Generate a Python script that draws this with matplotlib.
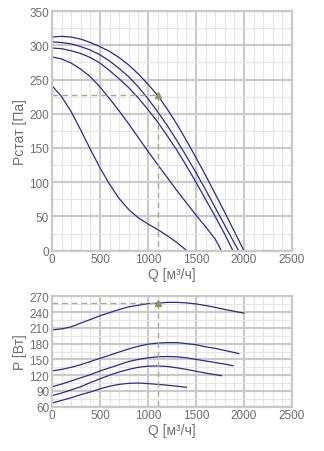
import numpy as np
import matplotlib
matplotlib.use('Agg')
import matplotlib.pyplot as plt
from matplotlib.ticker import MultipleLocator

plt.rcParams['font.family'] = ['Liberation Sans', 'DejaVu Sans']

# Static pressure curves, Q [m3/h] -> Pstat [Pa]
q1 = list(range(0, 2001, 100))
pst1 = [312, 313, 312, 309, 304, 298, 291, 282, 271, 258, 243, 227, 207, 185, 161, 136, 110, 83, 56, 28, 0]
q2 = list(range(0, 1901, 100)) + [1945]
pst2 = [305, 304, 302, 298, 293, 286, 277, 266, 254, 239, 222, 203, 183, 161, 138, 114, 89, 63, 37, 11, 0]
q3 = list(range(0, 1801, 100)) + [1885]
pst3 = [296, 295, 292, 288, 282, 274, 263, 251, 238, 223, 206, 188, 168, 147, 124, 100, 75, 50, 24, 0]
q4 = list(range(0, 1701, 100)) + [1765]
pst4 = [283, 280, 274, 265, 254, 239, 222, 204, 185, 165, 145, 126, 107, 88, 70, 52, 35, 17, 0]
q5 = list(range(0, 1301, 100)) + [1405]
pst5 = [241, 225, 203, 176, 148, 121, 97, 76, 60, 48, 39, 31, 22, 12, 0]

# Power curves, Q -> P [W]
pw1 = [206, 208, 212, 219, 226, 233, 239, 245, 250, 253, 256, 257, 258.5, 258.5, 257.5, 255.5, 252.5, 249, 245, 241.5, 238]
pw2 = [128, 131, 135, 140, 146, 152, 158, 164, 170, 175, 179, 181, 182, 182, 180, 178, 174, 171, 167, 163, 161]
pw3 = [98, 103, 109, 115, 121, 128, 134, 140, 146, 150, 153, 155, 155.5, 155, 153, 150, 147, 144, 141, 138]
pw4 = [81, 86, 92, 98, 106, 113, 120, 126, 131, 135, 137, 137.5, 136.5, 134, 131, 127.5, 124, 121, 119]
q5p = list(range(0, 1401, 100))
pw5 = [67, 72, 77, 83, 88, 94, 99, 102.5, 104.5, 105, 104, 102.5, 101, 99, 97]

# Operating point
q_op = 1100
p_op = 227
w_op = 257

line_c = '#2a2a92'
dash_c = '#a9a98f'
mark_c = '#8a9a5b'
grid_major = '#cacaca'
grid_minor = '#e6e6e6'
text_c = '#6e6e6e'

fig = plt.figure(figsize=(3.24, 4.52), dpi=100)
ax1 = fig.add_axes([0.1605, 0.4431, 0.7407, 0.5303])
ax2 = fig.add_axes([0.1605, 0.0980, 0.7407, 0.2442])


def style(ax, ymin, ymax, ymaj, ymin_step):
    ax.set_xlim(0, 2500)
    ax.set_ylim(ymin, ymax)
    ax.xaxis.set_major_locator(MultipleLocator(500))
    ax.xaxis.set_minor_locator(MultipleLocator(100))
    ax.yaxis.set_major_locator(MultipleLocator(ymaj))
    ax.yaxis.set_minor_locator(MultipleLocator(ymin_step))
    ax.grid(which='major', color=grid_major, linewidth=1.6)
    ax.grid(which='minor', color=grid_minor, linewidth=0.8)
    ax.set_axisbelow(True)
    for s in ax.spines.values():
        s.set_color(grid_major)
        s.set_linewidth(1.6)
    ax.tick_params(which='both', length=0, labelsize=8.5, colors=text_c, pad=2)
    ax.set_xlabel('Q [м³/ч]', fontsize=10, color=text_c, labelpad=1)


style(ax1, 0, 350, 50, 25)
for q, p in [(q1, pst1), (q2, pst2), (q3, pst3), (q4, pst4), (q5, pst5)]:
    ax1.plot(q, p, color=line_c, linewidth=0.9)
ax1.plot([0, q_op], [p_op, p_op], color=dash_c, linewidth=1.0, dashes=(4, 3))
ax1.plot([q_op, q_op], [p_op, 0], color=dash_c, linewidth=1.0, dashes=(4, 3))
ax1.plot([q_op], [p_op], marker='^', color=mark_c, markersize=5)
ax1.set_ylabel('Pстат [Па]', fontsize=10, color=text_c, labelpad=2)

style(ax2, 60, 270, 30, 15)
for q, p in [(q1, pw1), (q2, pw2), (q3, pw3), (q4, pw4), (q5p, pw5)]:
    ax2.plot(q, p, color=line_c, linewidth=0.9)
ax2.plot([0, q_op], [w_op, w_op], color=dash_c, linewidth=1.0, dashes=(4, 3))
ax2.plot([q_op, q_op], [w_op, 60], color=dash_c, linewidth=1.0, dashes=(4, 3))
ax2.plot([q_op], [w_op], marker='^', color=mark_c, markersize=5)
ax2.set_ylabel('P [Вт]', fontsize=10, color=text_c, labelpad=2)

fig.savefig('out.png', dpi=100, facecolor='white')
